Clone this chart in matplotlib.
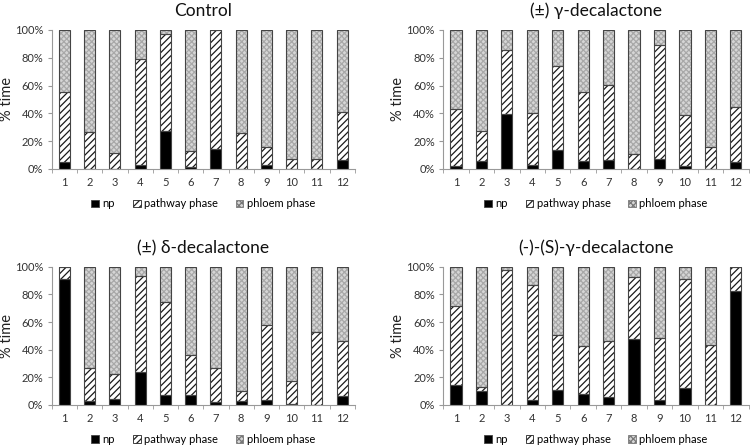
import numpy as np
import matplotlib.pyplot as plt
from matplotlib.patches import Patch

plt.rcParams['font.family'] = ['Lato', 'DejaVu Sans']
plt.rcParams['hatch.linewidth'] = 0.9

insects = [str(i) for i in range(1, 13)]

# % time in np and pathway phase per insect; phloem phase is the rest
control_np = [5.3, 0, 0, 2.9, 27.4, 1.2, 14.7, 0, 2.9, 0, 0, 6.5]
control_path = [50.2, 26.4, 11.8, 76.1, 70.0, 12.0, 85.3, 25.7, 13.0, 7.0, 7.0, 34.5]

gamma_np = [2.4, 5.6, 39.4, 3.1, 13.3, 5.6, 6.3, 0, 7.0, 2.4, 0, 5.3]
gamma_path = [40.8, 21.7, 45.9, 36.8, 60.9, 49.5, 53.8, 10.6, 82.1, 36.5, 15.7, 39.6]

delta_np = [91.3, 3.1, 4.1, 23.9, 7.2, 7.2, 1.9, 2.9, 3.4, 0.7, 0, 6.5]
delta_path = [8.7, 23.9, 18.1, 69.8, 67.7, 28.8, 25.1, 7.5, 54.3, 16.9, 52.7, 39.9]

sgamma_np = [14.7, 10.1, 0, 3.9, 10.9, 8.2, 6.0, 47.8, 3.9, 12.6, 0, 82.6]
sgamma_path = [57.3, 2.9, 98.0, 82.8, 40.1, 34.8, 40.6, 44.5, 44.9, 78.9, 43.7, 17.4]

panels = [
    ("Control", control_np, control_path),
    ("(\u00b1) \u03b3-decalactone", gamma_np, gamma_path),
    ("(\u00b1) \u03b4-decalactone", delta_np, delta_path),
    ("(-)-(S)-\u03b3-decalactone", sgamma_np, sgamma_path),
]

positions = [
    [0.069, 0.622, 0.404, 0.311],
    [0.591, 0.622, 0.407, 0.311],
    [0.069, 0.094, 0.404, 0.309],
    [0.591, 0.094, 0.407, 0.309],
]

fig = plt.figure(figsize=(7.5, 4.47), dpi=100)

edge = "#444444"
w = 0.44

for (title, np_vals, path_vals), pos in zip(panels, positions):
    ax = fig.add_axes(pos)
    x = np.arange(len(insects))
    npv = np.array(np_vals)
    pav = np.array(path_vals)
    phl = 100 - npv - pav

    # fills
    ax.bar(x, npv, w, color="black", linewidth=0)
    ax.bar(x, pav, w, bottom=npv, color="white", hatch="/////",
           edgecolor="#1a1a1a", linewidth=0)
    ax.bar(x, phl, w, bottom=npv + pav, color="#d6d6d6", hatch="xxxxxx",
           edgecolor="#a8a8a8", linewidth=0)
    # outlines
    ax.bar(x, npv, w, fill=False, edgecolor=edge, linewidth=0.8)
    ax.bar(x, pav, w, bottom=npv, fill=False, edgecolor=edge, linewidth=0.8)
    ax.bar(x, phl, w, bottom=npv + pav, fill=False, edgecolor=edge, linewidth=0.8)

    ax.set_xlim(-0.5, len(insects) - 0.5)
    ax.set_ylim(0, 100)
    ax.set_yticks(range(0, 101, 20))
    ax.set_yticklabels([f"{v}%" for v in range(0, 101, 20)], fontsize=8, color="#333333")
    ax.set_xticks(x)
    ax.set_xticklabels(insects, fontsize=8, color="#333333")
    ax.set_xticks(np.arange(-0.5, len(insects)), minor=True)
    ax.tick_params(axis="x", which="major", length=0, pad=6)
    ax.tick_params(axis="x", which="minor", length=3, color="#999999")
    ax.tick_params(axis="y", length=3, color="#999999", pad=3)
    for s in ["top", "right"]:
        ax.spines[s].set_visible(False)
    ax.spines["left"].set_color("#999999")
    ax.spines["bottom"].set_color("#999999")
    ax.set_ylabel("% time", fontsize=10.5, color="#222222", labelpad=1)
    ax.set_title(title, fontsize=12.5, color="#111111", pad=10)

    handles = [
        Patch(facecolor="black", edgecolor=edge, linewidth=0.6),
        Patch(facecolor="white", edgecolor="#222222", hatch="/////", linewidth=0.6),
        Patch(facecolor="#d6d6d6", edgecolor="#777777", hatch="xxxxxx", linewidth=0.6),
    ]
    ax.legend(handles, ["np", "pathway phase", "phloem phase"], loc="upper center",
              bbox_to_anchor=(0.5, -0.155), ncol=3, frameon=False, fontsize=8,
              handlelength=0.7, handleheight=0.7, handletextpad=0.3, columnspacing=1.6,
              borderpad=0.2)

fig.savefig("out.png", dpi=100)
